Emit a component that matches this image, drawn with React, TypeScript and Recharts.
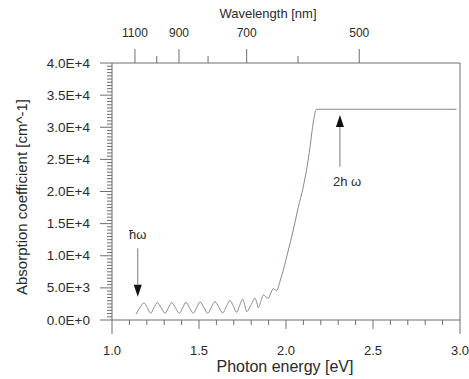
import React from "react";
import { ComposedChart, Line, XAxis, YAxis, ReferenceLine } from "recharts";

// Photon energy [eV] and absorption coefficient [cm^-1]
const energy = [
  1.138, 1.16, 1.184, 1.203, 1.222, 1.241, 1.26, 1.283, 1.305, 1.324, 1.343, 1.365,
  1.387, 1.406, 1.425, 1.446, 1.467, 1.487, 1.506, 1.528, 1.55, 1.571, 1.592, 1.614,
  1.636, 1.657, 1.678, 1.697, 1.716, 1.733, 1.751, 1.763, 1.774, 1.8, 1.822, 1.832,
  1.841, 1.855, 1.87, 1.885, 1.899, 1.913, 1.927, 1.937, 1.947, 1.965, 1.985, 2.01,
  2.042, 2.07, 2.099, 2.12, 2.138, 2.157, 2.176, 2.98,
];
const absorption = [
  900, 1900, 2650, 1900, 1050, 1900, 2700, 1900, 1050, 1900, 2700, 1900,
  1050, 1900, 2750, 1900, 1050, 1950, 2800, 1950, 1050, 2000, 2850, 2000,
  1100, 2100, 3000, 2200, 1200, 2200, 3250, 2300, 1300, 2400, 3400, 2700,
  1900, 2900, 3900, 3600, 3400, 4200, 4900, 4700, 4600, 6000, 7800, 10500,
  14000, 17500, 20700, 23700, 26900, 30800, 32800, 32800,
];

// bottom axis ticks
const xMinorTicks = [1.1, 1.2, 1.3, 1.4, 1.6, 1.7, 1.8, 1.9, 2.1, 2.2, 2.3, 2.4, 2.6, 2.7, 2.8, 2.9];
const xMajorTicks = [1.0, 1.5, 2.0, 2.5, 3.0];
const xMajorLabels = ["1.0", "1.5", "2.0", "2.5", "3.0"];

// left axis ticks
const yMajorTicks = [0, 5000, 10000, 15000, 20000, 25000, 30000, 35000, 40000];
const yMajorLabels = ["0.0E+0", "5.0E+3", "1.0E+4", "1.5E+4", "2.0E+4", "2.5E+4", "3.0E+4", "3.5E+4", "4.0E+4"];
const yMinorStep = 500;

// top axis (wavelength) ticks, positions in eV
const wlTickEnergy = [1.132, 1.257, 1.385, 1.552, 1.774, 2.069, 2.421];
const wlTickLabels = ["1100", "", "900", "", "700", "", "500"];

// annotation arrows
const arrow1 = { e: 1.148, from: 11150, to: 3620, label: "ħω" };
const arrow2 = { e: 2.31, from: 23850, to: 31900, label: "2h ω" };

const data = energy.map((e, i) => ({ e, a: absorption[i] }));
const yMinorTicks: number[] = [];
for (let v = 0; v <= 40000; v += yMinorStep) if (v % 5000 !== 0) yMinorTicks.push(v);
const xTicks = [...xMajorTicks, ...xMinorTicks].sort((a, b) => a - b);
const yTicks = [...yMajorTicks, ...yMinorTicks].sort((a, b) => a - b);

const AX = "#6e6e6e";
const TXT = "#2a2a2a";
const FONT = "'Liberation Sans', Arial, sans-serif";

const BottomTick = (props: any) => {
  const { x, y, payload } = props;
  const v = payload.value;
  const mi = xMajorTicks.findIndex((m) => Math.abs(m - v) < 1e-6);
  const isEnd = mi === 0 || mi === xMajorTicks.length - 1;
  const len = mi >= 0 ? (isEnd ? 14 : 9) : 5;
  return (
    <g>
      <line x1={x} x2={x} y1={y} y2={y + len} stroke={AX} strokeWidth={1} />
      {mi >= 0 && (
        <text x={x} y={y + 35} textAnchor="middle" fontSize={13} fill={TXT} fontFamily={FONT}>
          {xMajorLabels[mi]}
        </text>
      )}
    </g>
  );
};

const LeftTick = (props: any) => {
  const { x, y, payload } = props;
  const v = payload.value;
  const mi = yMajorTicks.indexOf(v);
  const len = mi >= 0 ? 12 : 5;
  return (
    <g>
      <line x1={x - len} x2={x} y1={y} y2={y} stroke={AX} strokeWidth={1} />
      {mi >= 0 && (
        <text x={x - 22} y={y + 4.5} textAnchor="end" fontSize={13.5} fill={TXT} fontFamily={FONT}>
          {yMajorLabels[mi]}
        </text>
      )}
    </g>
  );
};

const TopTick = (props: any) => {
  const { x, y, index } = props;
  const label = wlTickLabels[index] ?? "";
  const len = label ? 14 : 7;
  return (
    <g>
      <line x1={x} x2={x} y1={y} y2={y - len} stroke={AX} strokeWidth={1} />
      {label && (
        <text x={x} y={y - 26} textAnchor="middle" fontSize={12} fill={TXT} fontFamily={FONT}>
          {label}
        </text>
      )}
    </g>
  );
};

const makeArrow = (label: string, labelDx: number, labelDy: number, anchor: string) => (props: any) => {
  const { x1, y1, x2, y2 } = props;
  const dir = y2 > y1 ? 1 : -1;
  const head = 12;
  const hw = 4;
  return (
    <g>
      <line x1={x1} y1={y1} x2={x2} y2={y2 - dir * head} stroke="#7a7a7a" strokeWidth={1} />
      <polygon
        points={`${x2},${y2} ${x2 - hw},${y2 - dir * head} ${x2 + hw},${y2 - dir * head}`}
        fill="#111"
      />
      <text x={x1 + labelDx} y={y1 + labelDy} textAnchor={anchor} fontSize={13} fill={TXT} fontFamily={FONT}>
        {label}
      </text>
    </g>
  );
};

export default function App() {
  return (
    <div style={{ position: "absolute", left: 0, top: 0, background: "#fff" }}>
      <ComposedChart width={469} height={379} data={data} margin={{ top: 0, right: 9, bottom: 0, left: 0 }}>
        <XAxis
          xAxisId="top"
          orientation="top"
          type="number"
          dataKey="e"
          domain={[1, 3]}
          ticks={wlTickEnergy}
          interval={0}
          height={63}
          tickSize={0}
          tickMargin={0}
          tickLine={false}
          axisLine={{ stroke: AX }}
          tick={<TopTick />}
          allowDataOverflow
        />
        <XAxis
          xAxisId="bottom"
          orientation="bottom"
          type="number"
          dataKey="e"
          domain={[1, 3]}
          ticks={xTicks}
          interval={0}
          height={59}
          tickSize={0}
          tickMargin={0}
          tickLine={false}
          axisLine={{ stroke: AX }}
          tick={<BottomTick />}
          allowDataOverflow
        />
        <YAxis
          type="number"
          domain={[0, 40000]}
          ticks={yTicks}
          interval={0}
          width={112}
          tickSize={0}
          tickMargin={0}
          tickLine={false}
          axisLine={{ stroke: AX }}
          tick={<LeftTick />}
          allowDataOverflow
        />
        <ReferenceLine xAxisId="bottom" x={3} stroke={AX} strokeWidth={1} />
        <Line
          xAxisId="bottom"
          type="monotone"
          dataKey="a"
          stroke="#8a8a7c"
          strokeWidth={1}
          dot={false}
          isAnimationActive={false}
        />
        <ReferenceLine
          xAxisId="bottom"
          segment={[{ x: arrow1.e, y: arrow1.from }, { x: arrow1.e, y: arrow1.to }]}
          shape={makeArrow(arrow1.label, 0, -9, "middle")}
        />
        <ReferenceLine
          xAxisId="bottom"
          segment={[{ x: arrow2.e, y: arrow2.from }, { x: arrow2.e, y: arrow2.to }]}
          shape={makeArrow(arrow2.label, -7, 19, "start")}
        />
        <text x={268} y={18} textAnchor="middle" fontSize={13} fill={TXT} fontFamily={FONT}>
          Wavelength [nm]
        </text>
        <text x={285} y={372} textAnchor="middle" fontSize={16} fill={TXT} fontFamily={FONT}>
          Photon energy [eV]
        </text>
        <text
          x={0}
          y={0}
          transform="translate(27,197) rotate(-90)"
          textAnchor="middle"
          fontSize={15}
          fill={TXT}
          fontFamily={FONT}
        >
          Absorption coefficient [cm^-1]
        </text>
      </ComposedChart>
    </div>
  );
}
